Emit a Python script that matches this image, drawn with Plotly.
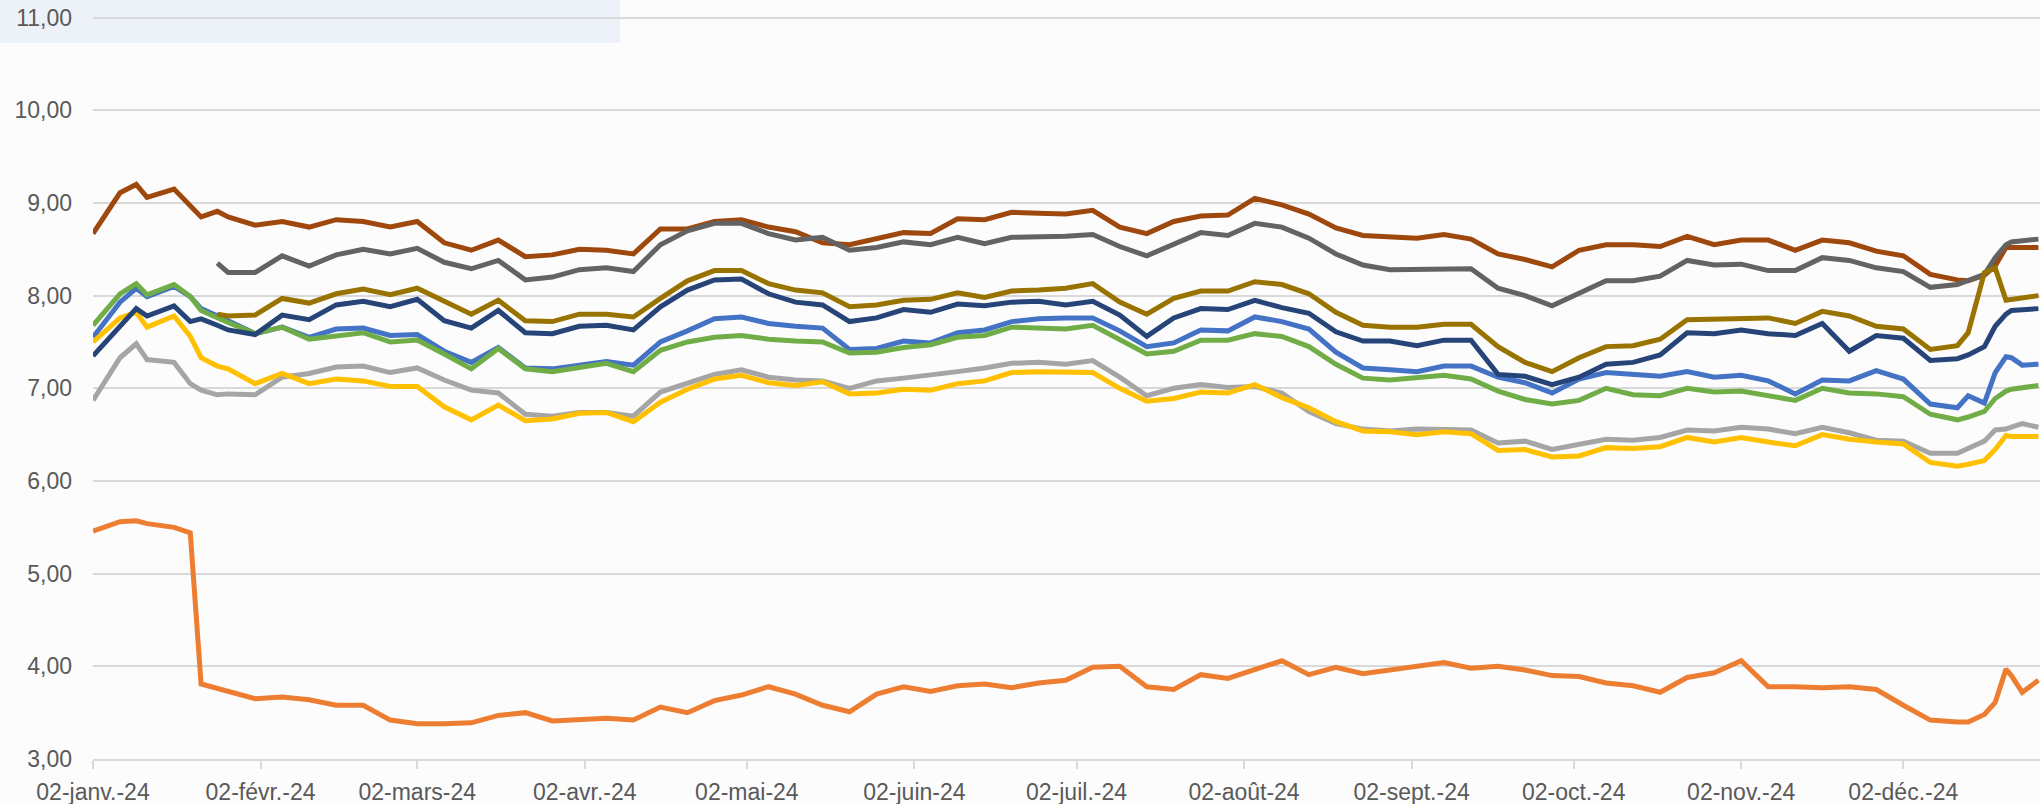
import plotly.graph_objects as go

dates = [
    "2024-01-02","2024-01-07","2024-01-10","2024-01-12","2024-01-17","2024-01-20","2024-01-22","2024-01-25","2024-01-27",
    "2024-02-01","2024-02-06","2024-02-11","2024-02-16","2024-02-21","2024-02-26",
    "2024-03-02","2024-03-07","2024-03-12","2024-03-17","2024-03-22","2024-03-27",
    "2024-04-01","2024-04-06","2024-04-11","2024-04-16","2024-04-21","2024-04-26",
    "2024-05-01","2024-05-06","2024-05-11","2024-05-16","2024-05-21","2024-05-26","2024-05-31",
    "2024-06-05","2024-06-10","2024-06-15","2024-06-20","2024-06-25","2024-06-30",
    "2024-07-05","2024-07-10","2024-07-15","2024-07-20","2024-07-25","2024-07-30",
    "2024-08-04","2024-08-09","2024-08-14","2024-08-19","2024-08-24","2024-08-29",
    "2024-09-03","2024-09-08","2024-09-13","2024-09-18","2024-09-23","2024-09-28",
    "2024-10-03","2024-10-08","2024-10-13","2024-10-18","2024-10-23","2024-10-28",
    "2024-11-02","2024-11-07","2024-11-12","2024-11-17","2024-11-22","2024-11-27",
    "2024-12-02","2024-12-07","2024-12-12","2024-12-14","2024-12-17","2024-12-19","2024-12-21","2024-12-22","2024-12-24","2024-12-27",
]

brown = [8.67, 9.11, 9.20, 9.06, 9.15, 8.98, 8.85, 8.91, 8.85,
         8.76, 8.80, 8.74, 8.82, 8.80, 8.74,
         8.80, 8.57, 8.49, 8.60, 8.42, 8.44,
         8.50, 8.49, 8.45, 8.72, 8.72, 8.80,
         8.82, 8.74, 8.69, 8.57, 8.55, 8.62, 8.68,
         8.67, 8.83, 8.82, 8.90, 8.89, 8.88,
         8.92, 8.74, 8.67, 8.80, 8.86, 8.87,
         9.05, 8.98, 8.88, 8.73, 8.65, 8.63,
         8.62, 8.66, 8.61, 8.45, 8.39, 8.31,
         8.49, 8.55, 8.55, 8.53, 8.64, 8.55,
         8.60, 8.60, 8.49, 8.60, 8.57, 8.48,
         8.43, 8.23, 8.17, 8.16, 8.22, 8.32, 8.52, 8.52, 8.52, 8.52]

dark_gray = [None, None, None, None, None, None, None, 8.35, 8.25,
             8.25, 8.43, 8.32, 8.44, 8.50, 8.45,
             8.51, 8.36, 8.29, 8.38, 8.17, 8.20,
             8.28, 8.30, 8.26, 8.55, 8.70, 8.78,
             8.78, 8.67, 8.60, 8.63, 8.49, 8.52, 8.58,
             8.55, 8.63, 8.56, 8.63, 8.63, 8.64,
             8.66, 8.53, 8.43, 8.55, 8.68, 8.65,
             8.78, 8.74, 8.62, 8.45, 8.33, 8.28,
             8.28, 8.29, 8.29, 8.08, 8.00, 7.89,
             8.02, 8.16, 8.16, 8.21, 8.38, 8.33,
             8.34, 8.27, 8.27, 8.41, 8.38, 8.30,
             8.26, 8.09, 8.12, 8.16, 8.23, 8.41, 8.55, 8.58, 8.59, 8.61]

olive = [None, None, None, None, None, None, None, 7.80, 7.78,
         7.79, 7.97, 7.92, 8.02, 8.07, 8.01,
         8.08, 7.94, 7.80, 7.95, 7.73, 7.72,
         7.80, 7.80, 7.77, 7.97, 8.16, 8.27,
         8.27, 8.13, 8.06, 8.03, 7.88, 7.90, 7.95,
         7.96, 8.03, 7.98, 8.05, 8.06, 8.08,
         8.13, 7.93, 7.80, 7.97, 8.05, 8.05,
         8.15, 8.12, 8.02, 7.82, 7.68, 7.66,
         7.66, 7.69, 7.69, 7.45, 7.28, 7.18,
         7.33, 7.45, 7.46, 7.53, 7.74, 7.75,
         7.75, 7.76, 7.70, 7.83, 7.78, 7.67,
         7.64, 7.42, 7.46, 7.60, 8.25, 8.30, 7.95, 7.96, 7.98, 8.00]

navy = [7.35, 7.68, 7.86, 7.78, 7.89, 7.72, 7.75, 7.68, 7.63,
        7.58, 7.79, 7.74, 7.90, 7.94, 7.88,
        7.96, 7.73, 7.65, 7.84, 7.60, 7.59,
        7.67, 7.68, 7.63, 7.88, 8.06, 8.17,
        8.18, 8.02, 7.93, 7.90, 7.72, 7.76, 7.85,
        7.82, 7.91, 7.89, 7.93, 7.94, 7.90,
        7.94, 7.79, 7.56, 7.76, 7.86, 7.85,
        7.95, 7.87, 7.81, 7.61, 7.51, 7.51,
        7.46, 7.52, 7.52, 7.15, 7.13, 7.04,
        7.12, 7.26, 7.28, 7.36, 7.60, 7.59,
        7.63, 7.59, 7.57, 7.70, 7.40, 7.57,
        7.54, 7.30, 7.32, 7.36, 7.45, 7.67, 7.80, 7.84, 7.85, 7.86]

blue = [7.55, 7.93, 8.08, 7.99, 8.10, 7.99, 7.86, 7.79, 7.73,
        7.59, 7.66, 7.55, 7.64, 7.65, 7.57,
        7.58, 7.40, 7.28, 7.44, 7.22, 7.21,
        7.25, 7.29, 7.25, 7.50, 7.62, 7.75,
        7.77, 7.70, 7.67, 7.65, 7.42, 7.43, 7.51,
        7.49, 7.60, 7.63, 7.72, 7.75, 7.76,
        7.76, 7.62, 7.45, 7.49, 7.63, 7.62,
        7.77, 7.72, 7.64, 7.39, 7.22, 7.20,
        7.18, 7.24, 7.24, 7.12, 7.06, 6.95,
        7.10, 7.17, 7.15, 7.13, 7.18, 7.12,
        7.14, 7.08, 6.94, 7.09, 7.08, 7.19,
        7.10, 6.83, 6.79, 6.92, 6.84, 7.17, 7.34, 7.33, 7.25, 7.26]

green = [7.68, 8.02, 8.13, 8.01, 8.12, 7.99, 7.84, 7.77, 7.71,
         7.59, 7.66, 7.53, 7.57, 7.60, 7.50,
         7.52, 7.37, 7.21, 7.43, 7.21, 7.18,
         7.23, 7.27, 7.18, 7.41, 7.50, 7.55,
         7.57, 7.53, 7.51, 7.50, 7.38, 7.39, 7.44,
         7.47, 7.55, 7.57, 7.66, 7.65, 7.64,
         7.68, 7.52, 7.37, 7.40, 7.52, 7.52,
         7.59, 7.56, 7.45, 7.26, 7.11, 7.09,
         7.11, 7.14, 7.10, 6.97, 6.88, 6.83,
         6.87, 7.00, 6.93, 6.92, 7.00, 6.96,
         6.97, 6.92, 6.87, 7.00, 6.95, 6.94,
         6.91, 6.72, 6.66, 6.69, 6.75, 6.89, 6.97, 6.99, 7.01, 7.03]

yellow = [7.50, 7.76, 7.82, 7.66, 7.78, 7.56, 7.33, 7.24, 7.21,
          7.05, 7.16, 7.05, 7.10, 7.08, 7.02,
          7.02, 6.80, 6.66, 6.82, 6.65, 6.67,
          6.73, 6.74, 6.64, 6.85, 6.99, 7.10,
          7.14, 7.06, 7.03, 7.07, 6.94, 6.95, 6.99,
          6.98, 7.05, 7.08, 7.17, 7.18, 7.17,
          7.17, 7.00, 6.86, 6.89, 6.96, 6.95,
          7.04, 6.90, 6.79, 6.64, 6.54, 6.53,
          6.50, 6.53, 6.51, 6.33, 6.34, 6.26,
          6.27, 6.36, 6.35, 6.37, 6.47, 6.42,
          6.47, 6.42, 6.38, 6.50, 6.45, 6.42,
          6.40, 6.20, 6.16, 6.18, 6.22, 6.34, 6.49, 6.48, 6.48, 6.48]

light_gray = [6.87, 7.33, 7.48, 7.31, 7.28, 7.05, 6.98, 6.93, 6.94,
              6.93, 7.12, 7.16, 7.23, 7.24, 7.17,
              7.22, 7.09, 6.98, 6.95, 6.72, 6.70,
              6.74, 6.74, 6.70, 6.96, 7.05, 7.15,
              7.20, 7.12, 7.09, 7.08, 7.00, 7.08, 7.11,
              7.14, 7.18, 7.22, 7.27, 7.28, 7.26,
              7.30, 7.12, 6.92, 7.00, 7.04, 7.01,
              7.02, 6.95, 6.75, 6.62, 6.56, 6.54,
              6.56, 6.56, 6.55, 6.41, 6.43, 6.34,
              6.40, 6.45, 6.44, 6.47, 6.55, 6.54,
              6.58, 6.56, 6.51, 6.58, 6.52, 6.44,
              6.43, 6.30, 6.30, 6.35, 6.43, 6.55, 6.56, 6.58, 6.62, 6.58]

orange = [5.46, 5.56, 5.57, 5.54, 5.50, 5.44, 3.81, 3.76, 3.72,
          3.65, 3.67, 3.64, 3.58, 3.58, 3.42,
          3.38, 3.38, 3.39, 3.47, 3.50, 3.41,
          3.43, 3.44, 3.42, 3.56, 3.50, 3.63,
          3.69, 3.78, 3.70, 3.58, 3.51, 3.70, 3.78,
          3.73, 3.79, 3.81, 3.77, 3.82, 3.85,
          3.99, 4.00, 3.78, 3.75, 3.91, 3.87,
          3.96, 4.06, 3.91, 3.99, 3.92, 3.96,
          3.99, 4.04, 3.98, 4.00, 3.96, 3.90,
          3.89, 3.82, 3.79, 3.72, 3.88, 3.93,
          4.06, 3.78, 3.78, 3.77, 3.78, 3.75,
          3.58, 3.42, 3.40, 3.40, 3.48, 3.61, 3.97, 3.90, 3.72, 3.85]

tick_dates = ["2024-01-02","2024-02-02","2024-03-02","2024-04-02","2024-05-02","2024-06-02",
              "2024-07-02","2024-08-02","2024-09-02","2024-10-02","2024-11-02","2024-12-02"]
tick_labels = ["02-janv.-24","02-févr.-24","02-mars-24","02-avr.-24","02-mai-24","02-juin-24",
               "02-juil.-24","02-août-24","02-sept.-24","02-oct.-24","02-nov.-24","02-déc.-24"]

series = [
    ("s1", blue, "#4472C4"),
    ("s2", orange, "#ED7D31"),
    ("s3", light_gray, "#A5A5A5"),
    ("s4", yellow, "#FFC000"),
    ("s6", green, "#70AD47"),
    ("s7", navy, "#264478"),
    ("s8", brown, "#9E480E"),
    ("s9", dark_gray, "#636363"),
    ("s10", olive, "#997300"),
]

fig = go.Figure()
for name, vals, col in series:
    fig.add_trace(go.Scatter(x=dates, y=vals, mode="lines", name=name,
                             line=dict(color=col, width=5), connectgaps=False,
                             showlegend=False))

font_family = "Liberation Sans, Arial, sans-serif"
fig.update_layout(
    width=2040, height=804, autosize=False,
    margin=dict(l=93, r=0, t=13, b=45, pad=0),
    paper_bgcolor="#FCFCFD", plot_bgcolor="rgba(0,0,0,0)",
    separators=", ",
    font=dict(family=font_family, color="#595959", size=23),
    shapes=[dict(type="rect", xref="paper", yref="paper", x0=-0.048, x1=0.2707,
                 y0=0.9598, y1=1.03, fillcolor="rgba(214,224,240,0.4)", line=dict(width=0), layer="below")],
)
fig.update_xaxes(
    type="date", range=["2024-01-02", "2024-12-27 07:00"],
    tickmode="array", tickvals=tick_dates, ticktext=tick_labels,
    showgrid=False, zeroline=False,
    showline=True, linecolor="#D9D9D9", linewidth=1.5,
    ticks="outside", ticklen=8, tickwidth=1.5, tickcolor="#D9D9D9",
    tickfont=dict(size=23, color="#595959", family=font_family),
    ticklabelstandoff=4,
)
fig.update_yaxes(
    range=[3, 11.05], dtick=1, tick0=3, tickformat=".2f",
    showgrid=True, gridcolor="#D9D9D9", gridwidth=1.5,
    zeroline=False, showline=False, ticks="",
    tickfont=dict(size=23, color="#595959", family=font_family),
    ticklabelstandoff=20,
)

fig.write_html("out.html", config={"displayModeBar": False},
               post_script="document.body.style.margin='0';document.body.style.overflow='hidden';")
